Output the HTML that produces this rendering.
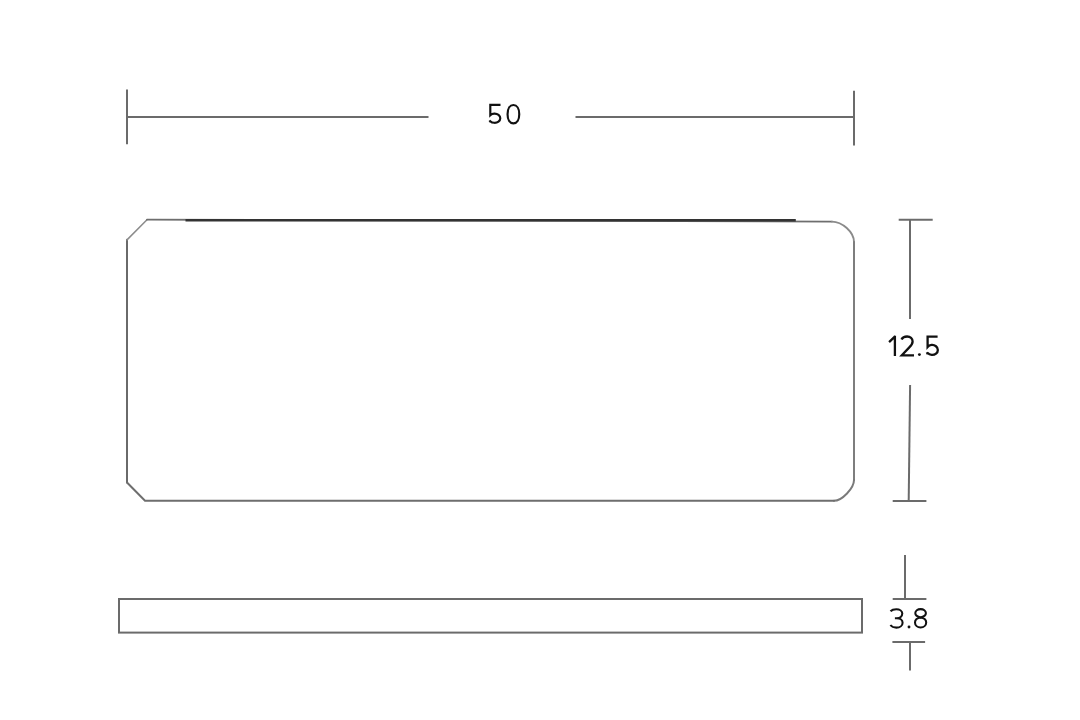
<!DOCTYPE html>
<html><head><meta charset="utf-8">
<style>
html,body{margin:0;padding:0;background:#fff;width:1080px;height:720px;overflow:hidden}
svg{display:block}
</style></head>
<body>
<svg width="1080" height="720" viewBox="0 0 1080 720">
<g stroke="#6b6b6b" stroke-width="2" fill="none" stroke-linecap="butt">
<!-- top dimension -->
<line x1="127" y1="89.5" x2="127" y2="144.2"/>
<line x1="854" y1="90.8" x2="854" y2="145.5"/>
<line x1="126" y1="117" x2="428.5" y2="117"/>
<line x1="575.5" y1="117" x2="854" y2="117"/>
<!-- main outline -->
<g stroke-linecap="round">
<path d="M127,239.7 V482.5" stroke="#6a6a6a"/>
<path d="M127,239.9 L147,219.7" stroke="#8c8c8c" stroke-width="1.5"/>
<path d="M147,219.7 L832,221.6" stroke="#6e6e6e" stroke-width="1.8"/>
<path d="M832,221.6 C842,221.6 854,232 854,242" stroke="#8a8a8a" stroke-width="1.9"/>
<path d="M854,242 V480" stroke="#7e7e7e"/>
<path d="M854,480 C854,488.2 842,500.8 834,500.8" stroke="#7a7a7a"/>
<path d="M834,500.8 H145 L127,482.5" stroke="#6e6e6e"/>
</g>
<line x1="185.5" y1="220.3" x2="795.8" y2="220.3" stroke="#333" stroke-width="2.6"/>
<!-- right dimension -->
<line x1="898.7" y1="219.8" x2="932.7" y2="219.8"/>
<line x1="910" y1="219.8" x2="910" y2="319"/>
<line x1="910.1" y1="385" x2="908.7" y2="501"/>
<line x1="892.7" y1="501" x2="926.4" y2="501"/>
<!-- bottom bar -->
<rect x="119" y="599" width="743" height="33.6"/>
<!-- 3.8 dim -->
<line x1="905" y1="555" x2="905" y2="599"/>
<line x1="892.7" y1="599" x2="926.4" y2="599"/>
<line x1="892.4" y1="642" x2="925.1" y2="642"/>
<line x1="910" y1="642" x2="910" y2="670.4"/>
</g>
<g stroke="#111" stroke-width="2.15" fill="none" stroke-linecap="butt" stroke-linejoin="miter">
<!-- 50 -->
<path d="M500.5,104.9 H490.3 V115.2 A5.69,4.6 0 1 1 490.25,121.16 L489.2,121.9"/>
<path d="M513.40,104.95 C516.91,104.95 519.25,108.63 519.25,114.15 C519.25,119.67 516.91,123.35 513.40,123.35 C509.89,123.35 507.55,119.67 507.55,114.15 C507.55,108.63 509.89,104.95 513.40,104.95 Z"/>
</g>
<g stroke="#111" stroke-width="2.3" fill="none" stroke-linecap="butt" stroke-linejoin="miter">
<!-- 12.5 -->
<path d="M894.9,335.7 V356.1 M895.3,336.2 L889.1,342.2"/>
<path d="M901.5,339.6 C902.5,337.5 904.7,336.5 907.1,336.5 C910.3,336.5 912.6,338.6 912.6,341.5 C912.6,343.8 911.3,345.5 909.3,347.4 L901.8,355.3 H914" stroke-linejoin="miter" stroke-miterlimit="3"/>
<path d="M937.6,336.6 H927.6 V346.9 A5.71,5.0 0 1 1 927.67,353.06 L926.3,353.7"/>
</g>
<g stroke="#111" stroke-width="2.05" fill="none" stroke-linecap="butt" stroke-linejoin="miter">
<!-- 3.8 -->
<path d="M890.5,611.3 C891.8,609.9 893.8,609.2 896.3,609.2 C899.8,609.2 902.3,611.1 902.3,613.6 C902.3,616.3 899.8,618.3 896.8,618.3 H894.9 M896.8,618.3 C900.3,618.3 902.6,620.2 902.6,622.7 C902.6,625.6 899.9,627.6 896.4,627.6 C893.8,627.6 891.6,626.6 890.4,625"/>
<path d="M920.6,617.4 C918.2,617.0 915.3,615.6 915.3,613.1 C915.3,610.8 917.6,609.1 920.6,609.1 C923.6,609.1 925.9,610.8 925.9,613.1 C925.9,615.6 923.0,617.0 920.6,617.4 Z"/>
<path d="M920.6,617.4 C923.5,617.8 926.2,619.5 926.2,622.4 C926.2,625.3 923.7,627.4 920.6,627.4 C917.5,627.4 915.0,625.3 915.0,622.4 C915.0,619.5 917.7,617.8 920.6,617.4 Z"/>
</g>
<g fill="#111">
<circle cx="919.4" cy="354.6" r="1.45"/>
<circle cx="909" cy="627" r="1.45"/>
</g>
</svg>
</body></html>
